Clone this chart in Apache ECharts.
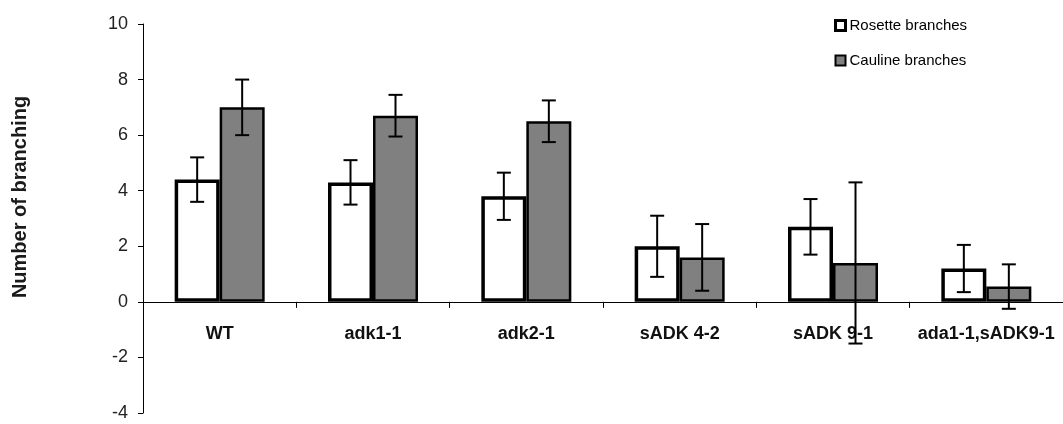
<!DOCTYPE html>
<html>
<head>
<meta charset="utf-8">
<script src="https://cdn.jsdelivr.net/npm/echarts@6/dist/echarts.min.js"></script>
<style>
  html, body { margin: 0; padding: 0; background: #fff; }
  #chart { width: 1063px; height: 424px; }
</style>
</head>
<body>
<div id="chart"></div>
<script>
// Genotypes on the x axis
const categories = ['WT', 'adk1-1', 'adk2-1', 'sADK 4-2', 'sADK 9-1', 'ada1-1,sADK9-1'];

// Mean number of branches and their standard deviations
const rosette = [4.4, 4.3, 3.8, 2.0, 2.7, 1.2];
const rosetteErr = [0.8, 0.8, 0.85, 1.1, 1.0, 0.85];
const cauline = [7.0, 6.7, 6.5, 1.6, 1.4, 0.55];
const caulineErr = [1.0, 0.75, 0.75, 1.2, 2.9, 0.8];

// Y axis range
const yTicks = { min: -4, max: 10, step: 2 };

const BAR_W = 45;
const FONT = '"Liberation Sans", Arial, sans-serif';

function errData(vals, errs) {
  return vals.map((v, i) => [i, v - errs[i], v + errs[i]]);
}

function errorBarSeries(name, vals, errs, side) {
  return {
    type: 'custom',
    name: name,
    z: 10,
    silent: true,
    data: errData(vals, errs),
    encode: { x: 0, y: [1, 2] },
    renderItem: function (params, api) {
      const idx = api.value(0);
      const lo = api.coord([idx, api.value(1)]);
      const hi = api.coord([idx, api.value(2)]);
      const x = lo[0] + side * BAR_W / 2;
      const cap = 7;
      const style = { stroke: '#000', lineWidth: 2 };
      return {
        type: 'group',
        children: [
          { type: 'line', shape: { x1: x, y1: hi[1], x2: x, y2: lo[1] }, style: style },
          { type: 'line', shape: { x1: x - cap, y1: hi[1], x2: x + cap, y2: hi[1] }, style: style },
          { type: 'line', shape: { x1: x - cap, y1: lo[1], x2: x + cap, y2: lo[1] }, style: style }
        ]
      };
    }
  };
}

const chart = echarts.init(document.getElementById('chart'), null, { renderer: 'canvas' });

chart.setOption({
  animation: false,
  backgroundColor: '#fff',
  grid: { left: 143, right: 0, top: 24, bottom: 11, containLabel: false, outerBoundsMode: 'none' },
  legend: {
    orient: 'vertical',
    left: 834,
    top: 18,
    padding: 0,
    itemWidth: 10,
    itemHeight: 10,
    itemGap: 20,
    icon: 'rect',
    textStyle: { fontFamily: FONT, fontSize: 15, color: '#000', padding: [0, 0, 0, -1] },
    data: [
      { name: 'Rosette branches', itemStyle: { color: '#fff', borderColor: '#000', borderWidth: 3 } },
      { name: 'Cauline branches', itemStyle: { color: '#808080', borderColor: '#000', borderWidth: 2 } }
    ]
  },
  graphic: [
    {
      type: 'text',
      x: 20,
      y: 197,
      rotation: Math.PI / 2,
      style: {
        text: 'Number of branching',
        fontFamily: FONT,
        fontSize: 20,
        fontWeight: 'bold',
        fill: '#1a1a1a',
        align: 'center',
        verticalAlign: 'middle'
      }
    }
  ],
  xAxis: {
    type: 'category',
    data: categories,
    axisLine: { onZero: true, lineStyle: { color: '#000', width: 1 } },
    axisTick: { show: true, interval: 0, length: 6, lineStyle: { color: '#000' } },
    axisLabel: {
      interval: 0,
      // labels sit below the zero line, inside the plotting area
      margin: -88,
      fontFamily: FONT,
      fontSize: 18,
      fontWeight: 'bold',
      color: '#111'
    },
    splitLine: { show: false }
  },
  yAxis: {
    type: 'value',
    min: yTicks.min,
    max: yTicks.max,
    interval: yTicks.step,
    axisLine: { show: true, lineStyle: { color: '#000', width: 1 } },
    axisTick: { show: true, length: 5, lineStyle: { color: '#000' } },
    axisLabel: { margin: 15, fontFamily: FONT, fontSize: 18, color: '#222' },
    splitLine: { show: false }
  },
  series: [
    {
      name: 'Rosette branches',
      type: 'bar',
      data: rosette,
      barWidth: BAR_W,
      barGap: '0%',
      itemStyle: { color: '#fff', borderColor: '#000', borderWidth: 3.5 },
      z: 3
    },
    {
      name: 'Cauline branches',
      type: 'bar',
      data: cauline,
      barWidth: BAR_W,
      barGap: '0%',
      itemStyle: { color: '#808080', borderColor: '#000', borderWidth: 2.5 },
      z: 2
    },
    errorBarSeries('rosetteErr', rosette, rosetteErr, -1),
    errorBarSeries('caulineErr', cauline, caulineErr, 1)
  ]
});
</script>
</body>
</html>
